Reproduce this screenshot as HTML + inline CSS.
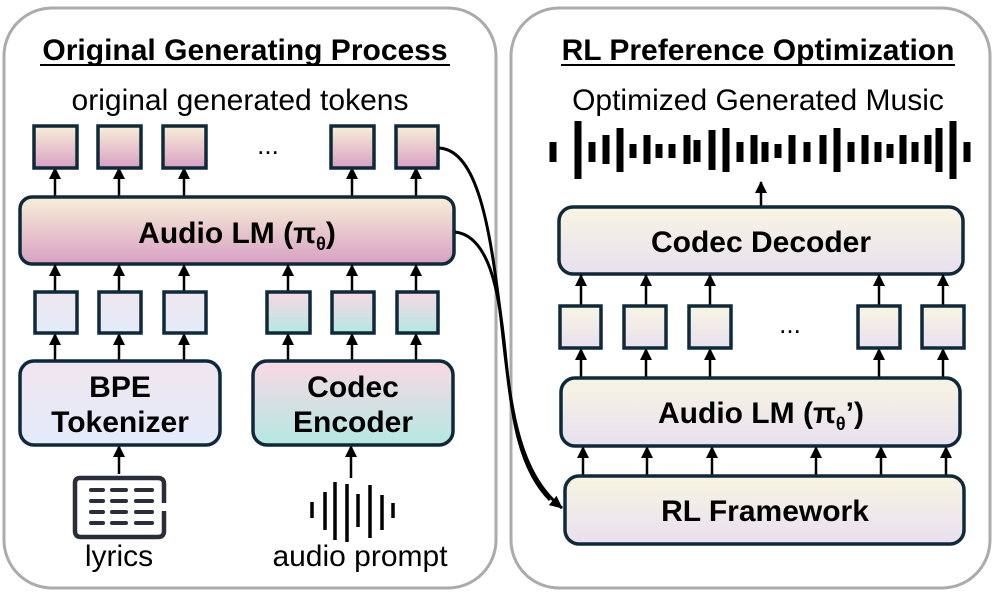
<!DOCTYPE html>
<html><head><meta charset="utf-8"><style>
html,body{margin:0;padding:0;background:#fff}
svg{display:block}
text{font-family:"Liberation Sans",Arial,sans-serif}
</style></head><body>
<svg width="998" height="592" viewBox="0 0 998 592" xmlns="http://www.w3.org/2000/svg">
<defs>
<linearGradient id="gLM" x1="0" y1="0" x2="0" y2="1"><stop offset="0" stop-color="#f8f0d8"/><stop offset="1" stop-color="#d8a0c4"/></linearGradient>
<linearGradient id="gTok" x1="0" y1="0" x2="0" y2="1"><stop offset="0" stop-color="#f8efd8"/><stop offset="1" stop-color="#d8a0c4"/></linearGradient>
<linearGradient id="gLav" x1="0" y1="0" x2="0" y2="1"><stop offset="0" stop-color="#f0e6ee"/><stop offset="1" stop-color="#e3ebfa"/></linearGradient>
<linearGradient id="gTeal" x1="0" y1="0" x2="0" y2="1"><stop offset="0" stop-color="#fad8e4"/><stop offset="1" stop-color="#b4e8e2"/></linearGradient>
<linearGradient id="gR" x1="0" y1="0" x2="0" y2="1"><stop offset="0" stop-color="#f8f5e2"/><stop offset="1" stop-color="#e8e0f0"/></linearGradient>
<marker id="ah" markerWidth="12" markerHeight="12" refX="11" refY="6" orient="auto" markerUnits="userSpaceOnUse"><path d="M0,0 L12,6 L0,12 Z" fill="#000"/></marker>
<marker id="ah2" markerWidth="14" markerHeight="12" refX="12" refY="6" orient="auto" markerUnits="userSpaceOnUse"><path d="M0,0 L13,6 L0,12 Z" fill="#000"/></marker>
</defs>

<rect x="4" y="8" width="492" height="580" rx="48" fill="#fff" stroke="#ababab" stroke-width="3"/>
<rect x="511" y="8" width="479" height="580" rx="48" fill="#fff" stroke="#ababab" stroke-width="3"/>

<text x="245" y="60" font-size="30" font-weight="bold" text-anchor="middle">Original Generating Process</text>
<line x1="40" y1="65" x2="450" y2="65" stroke="#000" stroke-width="2"/>
<text x="758" y="60" font-size="30" font-weight="bold" text-anchor="middle">RL Preference Optimization</text>
<line x1="561" y1="65" x2="955" y2="65" stroke="#000" stroke-width="2"/>

<text x="240" y="110" font-size="30" text-anchor="middle">original generated tokens</text>
<text x="758" y="110" font-size="30" text-anchor="middle">Optimized Generated Music</text>

<g stroke="#000" stroke-width="2.5" marker-end="url(#ah)">
<line x1="55" y1="196" x2="55" y2="168"/><line x1="119" y1="196" x2="119" y2="168"/><line x1="184" y1="196" x2="184" y2="168"/><line x1="352" y1="196" x2="352" y2="168"/><line x1="416" y1="196" x2="416" y2="168"/>
</g>
<g stroke="#0e2a3a" stroke-width="3.5" fill="url(#gTok)">
<rect x="34" y="126" width="43" height="42"/><rect x="98" y="126" width="43" height="42"/><rect x="163" y="126" width="43" height="42"/><rect x="331" y="126" width="43" height="42"/><rect x="396" y="126" width="42" height="42"/>
</g>
<text x="268" y="154" font-size="26" text-anchor="middle">...</text>
<rect x="20" y="197" width="434" height="67" rx="12" fill="url(#gLM)" stroke="#0e2a3a" stroke-width="3.5"/>
<text x="237" y="243" font-size="30" font-weight="bold" text-anchor="middle">Audio LM (π<tspan font-size="18" dy="7">θ</tspan><tspan dy="-7">)</tspan></text>

<g stroke="#000" stroke-width="2.5" marker-end="url(#ah)">
<line x1="55" y1="291" x2="55" y2="265"/><line x1="119" y1="291" x2="119" y2="265"/><line x1="184" y1="291" x2="184" y2="265"/><line x1="288" y1="291" x2="288" y2="265"/><line x1="352" y1="291" x2="352" y2="265"/><line x1="416" y1="291" x2="416" y2="265"/>
<line x1="55" y1="360" x2="55" y2="334"/><line x1="119" y1="360" x2="119" y2="334"/><line x1="184" y1="360" x2="184" y2="334"/><line x1="288" y1="360" x2="288" y2="334"/><line x1="352" y1="360" x2="352" y2="334"/><line x1="416" y1="360" x2="416" y2="334"/>
<line x1="119" y1="474" x2="119" y2="446"/><line x1="351" y1="478" x2="351" y2="446"/>
</g>
<g stroke="#0e2a3a" stroke-width="3.5">
<rect x="35" y="292" width="42" height="41" fill="url(#gLav)"/><rect x="99" y="292" width="42" height="41" fill="url(#gLav)"/><rect x="164" y="292" width="42" height="41" fill="url(#gLav)"/>
<rect x="267" y="292" width="43" height="41" fill="url(#gTeal)"/><rect x="332" y="292" width="42" height="41" fill="url(#gTeal)"/><rect x="397" y="292" width="41" height="41" fill="url(#gTeal)"/>
<rect x="20" y="361" width="200" height="84" rx="14" fill="url(#gLav)"/>
<rect x="253" y="361" width="200" height="84" rx="14" fill="url(#gTeal)"/>
</g>
<text x="120" y="397" font-size="30" font-weight="bold" text-anchor="middle">BPE</text>
<text x="120" y="432" font-size="30" font-weight="bold" text-anchor="middle">Tokenizer</text>
<text x="353" y="397" font-size="30" font-weight="bold" text-anchor="middle">Codec</text>
<text x="353" y="432" font-size="30" font-weight="bold" text-anchor="middle">Encoder</text>

<path d="M164,503 V484 Q164,478 158,478 H80 Q75,478 75,483 V531 Q75,537 81,537 H158 Q164,537 164,531 V511" fill="none" stroke="#2a2d3a" stroke-width="4.5"/>
<g stroke="#2a2d3a" stroke-width="4" stroke-linecap="round">
<line x1="91" y1="490" x2="103" y2="490"/><line x1="112" y1="490" x2="126" y2="490"/><line x1="136" y1="490" x2="152" y2="490"/>
<line x1="91" y1="501" x2="103" y2="501"/><line x1="112" y1="501" x2="126" y2="501"/><line x1="136" y1="501" x2="152" y2="501"/>
<line x1="91" y1="512" x2="103" y2="512"/><line x1="112" y1="512" x2="126" y2="512"/><line x1="136" y1="512" x2="152" y2="512"/>
<line x1="91" y1="523" x2="103" y2="523"/><line x1="112" y1="523" x2="126" y2="523"/><line x1="136" y1="523" x2="152" y2="523"/>
</g>
<text x="119" y="566" font-size="30" text-anchor="middle">lyrics</text>

<g stroke="#000" stroke-width="3.5">
<line x1="312" y1="502" x2="312" y2="518"/><line x1="325" y1="492" x2="325" y2="530"/><line x1="335" y1="482" x2="335" y2="540"/><line x1="347" y1="484" x2="347" y2="542"/><line x1="358" y1="494" x2="358" y2="527"/><line x1="370" y1="485" x2="370" y2="538"/><line x1="382" y1="495" x2="382" y2="530"/><line x1="393" y1="503" x2="393" y2="518"/>
</g>
<text x="360" y="566" font-size="30" text-anchor="middle">audio prompt</text>

<g stroke="#000" stroke-width="7">
<line x1="553" y1="142" x2="553" y2="162"/><line x1="578" y1="121" x2="578" y2="179"/><line x1="592" y1="142" x2="592" y2="162"/><line x1="606" y1="135" x2="606" y2="164"/><line x1="620" y1="128" x2="620" y2="172"/><line x1="633" y1="144" x2="633" y2="158"/><line x1="647" y1="135" x2="647" y2="164"/><line x1="659" y1="144" x2="659" y2="158"/><line x1="672" y1="144" x2="672" y2="158"/><line x1="687" y1="135" x2="687" y2="164"/><line x1="697" y1="140" x2="697" y2="162"/><line x1="712" y1="130" x2="712" y2="170"/><line x1="726" y1="128" x2="726" y2="172"/><line x1="740" y1="142" x2="740" y2="162"/><line x1="754" y1="135" x2="754" y2="164"/><line x1="765" y1="142" x2="765" y2="162"/><line x1="778" y1="144" x2="778" y2="158"/><line x1="792" y1="135" x2="792" y2="164"/><line x1="807" y1="142" x2="807" y2="162"/><line x1="823" y1="135" x2="823" y2="164"/><line x1="837" y1="128" x2="837" y2="172"/><line x1="851" y1="142" x2="851" y2="162"/><line x1="865" y1="135" x2="865" y2="164"/><line x1="878" y1="142" x2="878" y2="162"/><line x1="890" y1="144" x2="890" y2="158"/><line x1="903" y1="135" x2="903" y2="164"/><line x1="915" y1="142" x2="915" y2="162"/><line x1="928" y1="135" x2="928" y2="164"/><line x1="939" y1="128" x2="939" y2="172"/><line x1="953" y1="121" x2="953" y2="179"/><line x1="967" y1="142" x2="967" y2="162"/>
</g>

<line x1="761" y1="206" x2="761" y2="182" stroke="#000" stroke-width="2.5" marker-end="url(#ah)"/>
<rect x="559" y="207" width="404" height="67" rx="14" fill="url(#gR)" stroke="#0e2a3a" stroke-width="3.5"/>
<text x="761" y="252" font-size="30" font-weight="bold" text-anchor="middle">Codec Decoder</text>
<g stroke="#000" stroke-width="2.5" marker-end="url(#ah)">
<line x1="581" y1="305" x2="581" y2="275"/><line x1="646" y1="305" x2="646" y2="275"/><line x1="710" y1="305" x2="710" y2="275"/><line x1="879" y1="305" x2="879" y2="275"/><line x1="943" y1="305" x2="943" y2="275"/>
<line x1="581" y1="377" x2="581" y2="349"/><line x1="646" y1="377" x2="646" y2="349"/><line x1="710" y1="377" x2="710" y2="349"/><line x1="879" y1="377" x2="879" y2="349"/><line x1="943" y1="377" x2="943" y2="349"/>
<line x1="583" y1="475" x2="583" y2="447"/><line x1="647" y1="475" x2="647" y2="447"/><line x1="712" y1="475" x2="712" y2="447"/><line x1="816" y1="475" x2="816" y2="447"/><line x1="881" y1="475" x2="881" y2="447"/><line x1="946" y1="475" x2="946" y2="447"/>
</g>
<g stroke="#0e2a3a" stroke-width="3.5" fill="url(#gR)">
<rect x="560" y="306" width="41" height="42"/><rect x="624" y="306" width="42" height="42"/><rect x="689" y="306" width="42" height="42"/><rect x="858" y="306" width="42" height="42"/><rect x="922" y="306" width="42" height="42"/>
<rect x="561" y="378" width="399" height="68" rx="14"/>
<rect x="565" y="476" width="399" height="68" rx="14"/>
</g>
<text x="790" y="333" font-size="26" text-anchor="middle">...</text>
<text x="761" y="423" font-size="30" font-weight="bold" text-anchor="middle">Audio LM (π<tspan font-size="18" dy="7">θ</tspan><tspan dy="-7">’)</tspan></text>
<text x="765" y="521" font-size="30" font-weight="bold" text-anchor="middle">RL Framework</text>

<path d="M439,148 C478,150 490,230 500,310 C510,400 515,470 562,508" fill="none" stroke="#000" stroke-width="3" marker-end="url(#ah2)"/>
<path d="M455,232 C492,236 500,300 506,360 C512,420 520,470 550,500" fill="none" stroke="#000" stroke-width="3"/>
</svg>
</body></html>
